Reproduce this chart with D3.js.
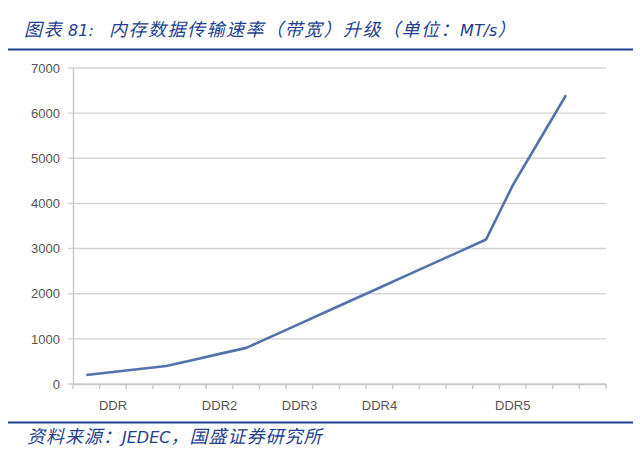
<!DOCTYPE html>
<html><head><meta charset="utf-8">
<script src="https://cdn.jsdelivr.net/npm/d3@7"></script>
<style>
html,body{margin:0;padding:0;background:#fff;}
svg{display:block;}
</style>
</head><body>
<svg id="c" width="640" height="461"></svg>
<script>
const categoryLabels = ["", "DDR", "", "", "", "DDR2", "", "", "DDR3", "", "", "DDR4", "", "", "", "", "DDR5", "", "", ""];
const rates = [200, 266, 333, 400, 533, 667, 800, 1066, 1333, 1600, 1866, 2133, 2400, 2666, 2933, 3200, 4400, 5400, 6400, null];
const yTicks = [0, 1000, 2000, 3000, 4000, 5000, 6000, 7000];
// title / source split into CJK and Latin runs
const titleParts = [["图表", "cjk"], [" 81:", "lat"], ["   ", "lat"], ["内存数据传输速率（带宽）升级（单位：", "cjk"], ["MT/s", "lat"], ["）", "cjk"]];
const sourceParts = [["资料来源：", "cjk"], ["JEDEC", "lat"], ["，国盛证券研究所", "cjk"]];

const svg = d3.select("#c");
const blue = "#1f3f8f";
const plotL = 73, plotR = 606, plotT = 68, plotB = 384;

const x = d3.scaleBand().domain(d3.range(categoryLabels.length)).range([plotL, plotR]).padding(0);
const y = d3.scaleLinear().domain([0, 7000]).range([plotB, plotT]);

function runText(parts, tx, ty, ls) {
  const t = svg.append("text").attr("x", tx).attr("y", ty)
    .attr("font-style", "italic").attr("fill", blue).attr("xml:space", "preserve");
  t.selectAll("tspan").data(parts).join("tspan")
    .attr("font-family", d => d[1] === "cjk" ? "'Noto Sans CJK SC',sans-serif" : "'DejaVu Sans',sans-serif")
    .attr("font-size", d => d[1] === "cjk" ? 18 : 16)
    .attr("letter-spacing", d => d[1] === "cjk" ? ls : 0)
    .text(d => d[0]);
  return t;
}

// title
runText(titleParts, 24, 36, 1.5);
svg.append("line").attr("x1", 8).attr("x2", 633).attr("y1", 49.5).attr("y2", 49.5)
  .attr("stroke", blue).attr("stroke-width", 2.2);

// gridlines
svg.append("g").selectAll("line").data(yTicks).join("line")
  .attr("x1", plotL - 5).attr("x2", plotR)
  .attr("y1", d => y(d)).attr("y2", d => y(d))
  .attr("stroke", "#d4d4d4").attr("stroke-width", 1.4);

// y axis
const yAxis = svg.append("g").attr("transform", `translate(${plotL},0)`)
  .call(d3.axisLeft(y).tickValues(yTicks).tickSize(0).tickPadding(13).tickFormat(d3.format("d")));
yAxis.select(".domain").attr("stroke", "#c8c8c8").attr("stroke-width", 1.4);
yAxis.selectAll("text").attr("font-family", "'Liberation Sans',Arial,sans-serif")
  .attr("font-size", 13).attr("fill", "#555");

// x axis
const xAxis = svg.append("g").attr("transform", `translate(0,${plotB})`)
  .call(d3.axisBottom(x).tickSize(0).tickPadding(17).tickFormat(i => categoryLabels[i]));
xAxis.select(".domain").attr("stroke", "#c8c8c8").attr("stroke-width", 1.4);
xAxis.selectAll("text").attr("font-family", "'Liberation Sans',Arial,sans-serif")
  .attr("font-size", 13).attr("fill", "#555");
// boundary tick marks
const bounds = x.domain().map(i => x(i)).concat([plotR]);
svg.append("g").selectAll("line").data(bounds).join("line")
  .attr("x1", d => d).attr("x2", d => d).attr("y1", plotB).attr("y2", plotB + 5)
  .attr("stroke", "#c8c8c8").attr("stroke-width", 1.4);

// line
const line = d3.line()
  .defined(d => d != null)
  .x((d, i) => x(i) + x.bandwidth() / 2)
  .y(d => y(d));
svg.append("path").datum(rates).attr("d", line)
  .attr("fill", "none").attr("stroke", "#5371aa").attr("stroke-width", 2.6)
  .attr("stroke-linejoin", "round");

// footer
svg.append("line").attr("x1", 8).attr("x2", 633).attr("y1", 422.5).attr("y2", 422.5)
  .attr("stroke", blue).attr("stroke-width", 2.2);
runText(sourceParts, 27, 443, 1);
</script>
</body></html>
